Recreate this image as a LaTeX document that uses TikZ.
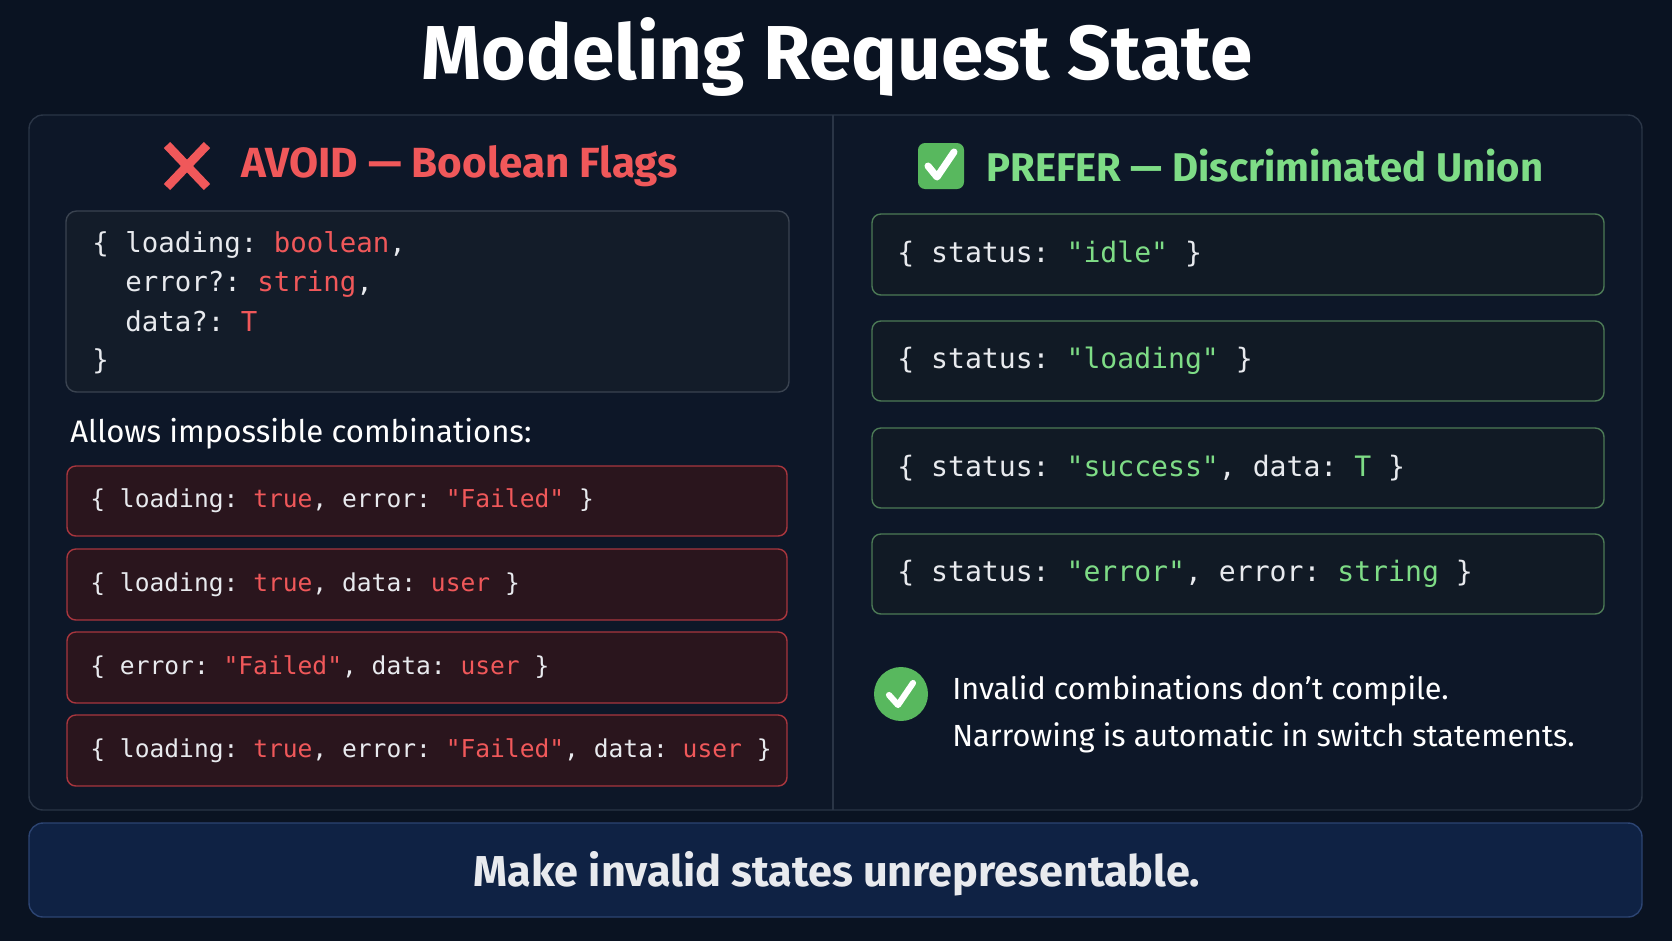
\documentclass[tikz,border=0pt]{standalone}
\usepackage{fontspec}
\setmainfont{Fira Sans}
\setmonofont{DejaVu Sans Mono}
\definecolor{bgdark}{HTML}{0A1322}
\definecolor{panelbg}{HTML}{0D1728}
\definecolor{panelline}{HTML}{2A3546}
\definecolor{codebg}{HTML}{131C29}
\definecolor{codeline}{HTML}{3A4350}
\definecolor{badred}{HTML}{F0585A}
\definecolor{redbg}{HTML}{2A151D}
\definecolor{redline}{HTML}{A8363E}
\definecolor{goodgreen}{HTML}{7EDC86}
\definecolor{greenbg}{HTML}{111A25}
\definecolor{greenline}{HTML}{4C7A56}
\definecolor{iconGreen}{HTML}{58B85E}
\definecolor{footbg}{HTML}{0F2244}
\definecolor{footline}{HTML}{2C4472}
\definecolor{codetext}{HTML}{E8EAEE}
\newcommand{\kw}[1]{\textcolor{badred}{#1}}
\newcommand{\gs}[1]{\textcolor{goodgreen}{#1}}
\begin{document}
\begin{tikzpicture}[x=0.02cm,y=-0.02cm,
  every node/.style={inner sep=0pt, text=white},
  codetxt/.style={anchor=west, font=\ttfamily\fontsize{14}{16}\selectfont, text=codetext},
  badbox/.style={draw=redline, fill=redbg, rounded corners=5pt, line width=0.8pt},
  goodbox/.style={draw=greenline, fill=greenbg, rounded corners=5pt, line width=0.8pt}]
  \fill[bgdark] (0,0) rectangle (1672,941);
  % title
  \node[font=\fontsize{43.5}{50}\selectfont\bfseries] (title) at (837,57) {Modeling Request State};
  % main panel
  \draw[panelline, fill=panelbg, rounded corners=8pt, line width=0.8pt] (29,115) rectangle (1642,810);
  \draw[panelline, line width=0.8pt] (833,115) -- (833,810);
  % left side
  \draw[badred, line width=5pt] (167,145) -- (207,187) (207,145) -- (167,187);
  \node[anchor=west, text=badred, font=\fontsize{24}{28}\selectfont\bfseries] (avoid) at (241,166) {AVOID — Boolean Flags};
  \draw[codeline, fill=codebg, rounded corners=6pt, line width=0.8pt] (66,211) rectangle (789,392);
  \node[codetxt, font=\ttfamily\fontsize{15.6}{18}\selectfont] (l1) at (92,245) {\{ loading: \kw{boolean},};
  \node[codetxt, font=\ttfamily\fontsize{15.6}{18}\selectfont] (l2) at (92,284) {\phantom{\{ }error?: \kw{string},};
  \node[codetxt, font=\ttfamily\fontsize{15.6}{18}\selectfont] (l3) at (92,323) {\phantom{\{ }data?: \kw{T}};
  \node[codetxt, font=\ttfamily\fontsize{15.6}{18}\selectfont] (l4) at (92,361) {\}};
  \node[anchor=west, font=\fontsize{17.7}{21}\selectfont] (allows) at (70,434) {Allows impossible combinations:};
  \foreach \ya/\yb/\txt [count=\i] in {
      466/536/{\{ loading: \kw{true}, error: \kw{"Failed"} \}},
      549/620/{\{ loading: \kw{true}, data: \kw{user} \}},
      632/703/{\{ error: \kw{"Failed"}, data: \kw{user} \}},
      715/786/{\{ loading: \kw{true}, error: \kw{"Failed"}, data: \kw{user} \}}} {
    \draw[badbox] (67,\ya) rectangle (787,\yb);
    \node[codetxt] (bad\i) at (90,{(\ya+\yb)/2}) {\txt};
  }
  % right side
  \fill[iconGreen, rounded corners=4pt] (918,143) rectangle (964,189);
  \draw[white, line width=4pt, line cap=round, line join=round] (928,166) -- (937,177) -- (954,152);
  \node[anchor=west, text=goodgreen, font=\fontsize{22.8}{27}\selectfont\bfseries] (prefer) at (986,166) {PREFER — Discriminated Union};
  \foreach \ya/\yb/\txt [count=\i] in {
      214/295/{\{ status: \gs{"idle"} \}},
      321/401/{\{ status: \gs{"loading"} \}},
      428/508/{\{ status: \gs{"success"}, data: \gs{T} \}},
      534/614/{\{ status: \gs{"error"}, error: \gs{string} \}}} {
    \draw[goodbox] (872,\ya) rectangle (1604,\yb);
    \node[codetxt, font=\ttfamily\fontsize{16}{18}\selectfont] (good\i) at (897,{(\ya+\yb)/2}) {\txt};
  }
  \fill[iconGreen] (901,694) circle (27);
  \draw[white, line width=3.5pt, line cap=round, line join=round] (889,695) -- (898,705) -- (913,683);
  \node[anchor=west, font=\fontsize{17.4}{21}\selectfont] (note1) at (952,691) {Invalid combinations don't compile.};
  \node[anchor=west, font=\fontsize{17.4}{21}\selectfont] (note2) at (952,738) {Narrowing is automatic in switch statements.};
  % footer
  \draw[footline, fill=footbg, rounded corners=8pt, line width=0.8pt] (29,823) rectangle (1642,917);
  \node[text=codetext, font=\fontsize{24.6}{29}\selectfont\bfseries] (motto) at (837,874) {Make invalid states unrepresentable.};
\end{tikzpicture}
\end{document}
